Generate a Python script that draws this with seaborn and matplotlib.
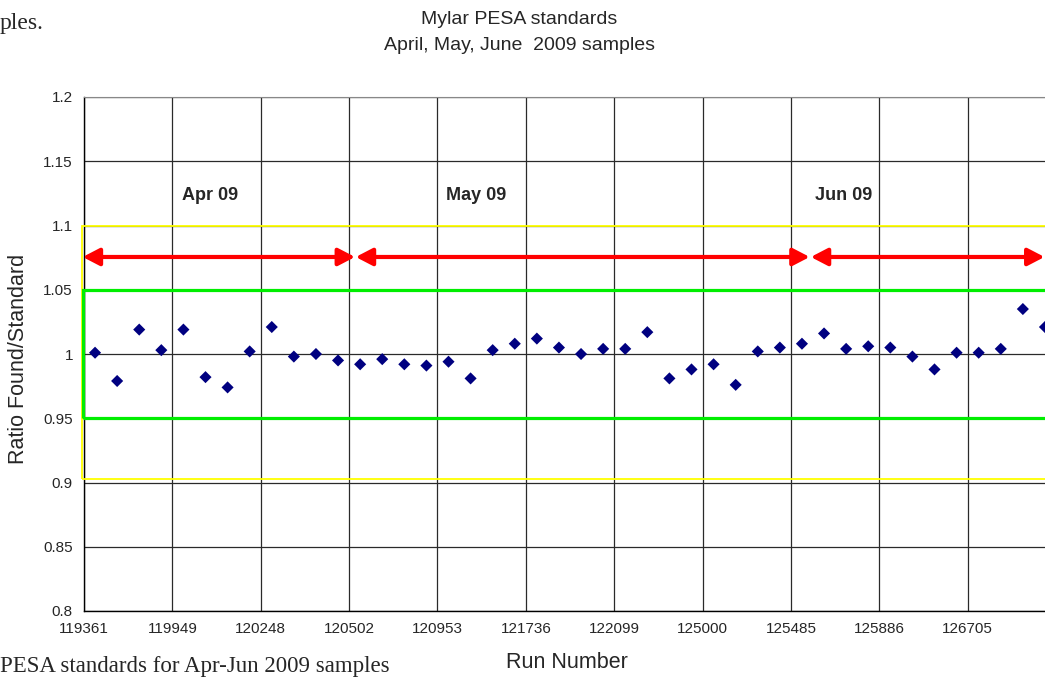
import matplotlib
matplotlib.use("Agg")
import matplotlib.pyplot as plt
import matplotlib.patches as patches
import numpy as np
import pandas as pd
import seaborn as sns

# ---------------------------------
# data
# ---------------------------------
run_labels = ["119361", "119949", "120248", "120502", "120953", "121736",
              "122099", "125000", "125485", "125886", "126705"]

ratio = [1.001, 0.979, 1.019, 1.003, 1.019, 0.982, 0.974, 1.002, 1.021, 0.998, 1.000,
         0.995, 0.992, 0.996, 0.992, 0.991, 0.994, 0.981, 1.003, 1.008, 1.012, 1.005,
         1.000, 1.004, 1.004, 1.017, 0.981, 0.988, 0.992, 0.976, 1.002, 1.005, 1.008,
         1.016, 1.004, 1.006, 1.005, 0.998, 0.988, 1.001, 1.001, 1.004, 1.035, 1.021]

months = ["Apr 09", "May 09", "Jun 09"]
month_text_x = [5.2, 17.25, 33.9]
month_spans = [(-0.56, 11.77), (11.8, 32.35), (32.4, 42.98)]

warn_limits = (0.903, 1.1)
ctrl_limits = (0.95, 1.05)

df = pd.DataFrame({"idx": np.arange(len(ratio)), "Ratio": ratio})

# ---------------------------------
# plot
# ---------------------------------
sns.set_style("white")
plt.rcParams["font.family"] = ["Liberation Sans", "DejaVu Sans"]

fig = plt.figure(figsize=(10.45, 6.77), dpi=100)
ax = fig.add_axes([84 / 1045, 1 - 611 / 677, 972 / 1045, 514 / 677])

sns.scatterplot(data=df, x="idx", y="Ratio", marker="D", color="#000080",
                s=38, edgecolor="none", ax=ax, zorder=5)

ax.set_xlim(-0.5, len(ratio) - 0.5)
ax.set_ylim(0.8, 1.2)
ax.set_yticks(np.arange(0.8, 1.2001, 0.05))
ax.set_yticklabels(["0.8", "0.85", "0.9", "0.95", "1", "1.05", "1.1", "1.15", "1.2"])
ax.set_xticks(np.arange(len(run_labels)) * 4 - 0.5)
ax.set_xticklabels(run_labels)
ax.tick_params(axis="both", direction="out", length=4, width=1, color="black",
               labelsize=11, pad=4)

ax.grid(True, color="#2a2a2a", lw=0.9)
ax.set_axisbelow(True)
for side in ["left", "bottom"]:
    ax.spines[side].set_color("black")
    ax.spines[side].set_linewidth(1)
ax.spines["top"].set_color("#888888")
ax.spines["right"].set_visible(False)

# limit boxes
ax.add_patch(patches.Rectangle((-0.57, warn_limits[0]), 50, warn_limits[1] - warn_limits[0],
                               fill=False, edgecolor="#ffff00", lw=1.3, clip_on=False, zorder=3))
ax.add_patch(patches.Rectangle((-0.54, ctrl_limits[0]), 50, ctrl_limits[1] - ctrl_limits[0],
                               fill=False, edgecolor="#00ee00", lw=2.3, clip_on=False, zorder=3))

# month arrows and labels
for name, tx, (x0, x1) in zip(months, month_text_x, month_spans):
    ax.annotate("", xy=(x1, 1.0755), xytext=(x0, 1.0755),
                arrowprops=dict(arrowstyle="<|-|>,head_length=0.5,head_width=0.26",
                                color="#ff0000", lw=3, mutation_scale=20,
                                shrinkA=0, shrinkB=0),
                annotation_clip=False, zorder=4)
    ax.text(tx, 1.123, name, ha="center", va="center", fontsize=13,
            fontweight="bold", zorder=4)

ax.set_xlabel("")
ax.set_ylabel("Ratio Found/Standard", fontsize=15.5)
ax.yaxis.set_label_coords(-0.057, 0.49)

fig.text(519 / 1045, 1 - 20 / 677, "Mylar PESA standards", ha="center", va="center", fontsize=14)
fig.text(519 / 1045, 1 - 46 / 677, "April, May, June  2009 samples", ha="center", va="center",
         fontsize=14)
fig.text(567 / 1045, 1 - 663 / 677, "Run Number", ha="center", va="center", fontsize=15.5)

# surrounding document text cropped into the picture
fig.text(0.0, 1 - 23 / 677, "ples.", ha="left", va="center", fontsize=17,
         family=["Liberation Serif"])
fig.text(0.0, 1 - 672 / 677, "PESA standards for Apr-Jun 2009 samples", ha="left",
         va="baseline", fontsize=16.5, family=["Liberation Serif"])

fig.savefig("out.png", dpi=100)
